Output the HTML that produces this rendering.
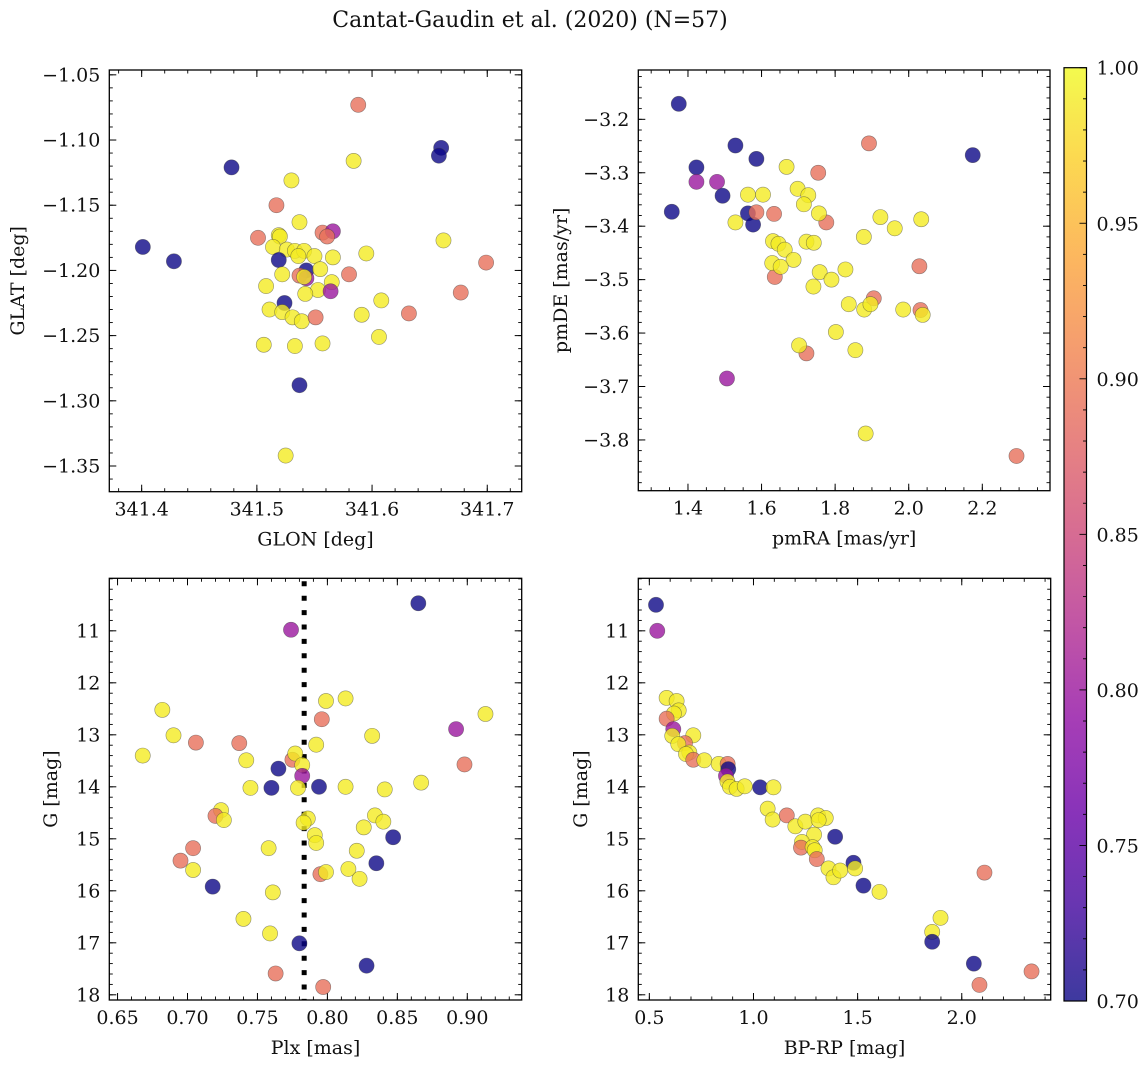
<!DOCTYPE html>
<html><head><meta charset="utf-8">
<style>
html,body{margin:0;padding:0;background:#fff;}
svg{display:block;font-family:"DejaVu Serif","Liberation Serif",serif;}
</style></head>
<body>
<svg id="fig" width="1148" height="1067" viewBox="0 0 1148 1067" xmlns="http://www.w3.org/2000/svg">
<text x="530" y="27" font-size="22" text-anchor="middle" fill="#111">Cantat-Gaudin et al. (2020) (N=57)</text>
</svg>
<script>
// ---- data ----
const B=0.70,M=0.80,S=0.89,Y=0.99;
const glon=[341.588,341.660,341.658,341.478,341.584,341.530,341.517,341.537,341.501,341.519,341.520,341.557,341.566,341.561,341.401,341.428,341.514,341.526,341.533,341.541,341.536,341.550,341.566,341.595,341.662,341.519,341.699,341.543,341.522,341.555,341.580,341.537,341.543,341.541,341.508,341.565,341.553,341.564,341.677,341.542,341.524,341.608,341.511,341.522,341.531,341.539,341.551,341.591,341.632,341.606,341.506,341.533,341.557,341.537,341.525];
const glat=[-1.073,-1.106,-1.112,-1.121,-1.116,-1.131,-1.150,-1.163,-1.175,-1.173,-1.174,-1.171,-1.170,-1.174,-1.182,-1.193,-1.182,-1.184,-1.185,-1.185,-1.189,-1.189,-1.190,-1.187,-1.177,-1.192,-1.194,-1.200,-1.203,-1.199,-1.203,-1.204,-1.206,-1.205,-1.212,-1.209,-1.215,-1.216,-1.217,-1.218,-1.225,-1.223,-1.230,-1.232,-1.236,-1.239,-1.236,-1.234,-1.233,-1.251,-1.257,-1.258,-1.256,-1.288,-1.342];
const probTL=[S,B,B,B,Y,Y,S,Y,S,Y,Y,S,M,S,B,B,Y,Y,Y,Y,Y,Y,Y,Y,Y,B,S,B,Y,Y,S,S,M,Y,Y,Y,Y,M,S,Y,B,Y,Y,Y,Y,Y,S,Y,S,Y,Y,Y,Y,B,Y];

const pmra=[1.375,1.529,1.586,1.423,1.494,1.356,1.563,1.577,2.174, 1.423,1.479,1.506, 1.892,1.754,1.586,1.634,1.776,2.029,1.636,1.905,2.032,1.722,2.293, 1.668,1.563,1.604,1.698,1.727,1.715,1.756,1.529,1.923,1.962,2.034,1.878,1.631,1.646,1.663,1.722,1.742,1.687,1.629,1.652,1.758,1.828,1.790,1.741,1.837,1.879,1.896,1.985,2.038,1.802,1.702,1.855,1.883];
const pmde=[-3.171,-3.249,-3.274,-3.290,-3.343,-3.373,-3.376,-3.397,-3.267, -3.317,-3.317,-3.685, -3.245,-3.300,-3.374,-3.377,-3.393,-3.475,-3.495,-3.535,-3.557,-3.638,-3.830, -3.289,-3.341,-3.341,-3.330,-3.342,-3.359,-3.376,-3.393,-3.383,-3.404,-3.387,-3.420,-3.428,-3.433,-3.444,-3.429,-3.431,-3.463,-3.469,-3.476,-3.486,-3.481,-3.500,-3.513,-3.546,-3.556,-3.546,-3.556,-3.566,-3.598,-3.623,-3.632,-3.788];
const probTR=[B,B,B,B,B,B,B,B,B, M,M,M, S,S,S,S,S,S,S,S,S,S,S, Y,Y,Y,Y,Y,Y,Y,Y,Y,Y,Y,Y,Y,Y,Y,Y,Y,Y,Y,Y,Y,Y,Y,Y,Y,Y,Y,Y,Y,Y,Y,Y,Y];

const plx=[0.865,0.774,0.682,0.799,0.813,0.796,0.913,0.892,0.690,0.832,0.706,0.737,0.668,0.792,0.742,0.775,0.777,0.782,0.898,0.765,0.782,0.760,0.745,0.779,0.794,0.813,0.841,0.867,0.724,0.720,0.726,0.786,0.783,0.834,0.840,0.826,0.847,0.791,0.792,0.758,0.821,0.704,0.695,0.704,0.835,0.815,0.823,0.795,0.799,0.718,0.761,0.740,0.759,0.780,0.828,0.763,0.797];
const gmagBL=[10.47,10.98,12.52,12.35,12.30,12.70,12.60,12.89,13.01,13.02,13.15,13.16,13.40,13.19,13.49,13.48,13.36,13.58,13.57,13.65,13.79,14.02,14.02,14.02,14.00,14.00,14.05,13.92,14.45,14.56,14.64,14.61,14.69,14.55,14.67,14.78,14.97,14.93,15.08,15.18,15.23,15.18,15.42,15.60,15.47,15.58,15.77,15.68,15.64,15.92,16.03,16.54,16.82,17.01,17.44,17.59,17.85];
const probBL=[B,M,Y,Y,Y,S,Y,M,Y,Y,S,S,Y,Y,Y,S,Y,Y,S,B,M,B,Y,Y,B,Y,Y,Y,Y,S,Y,Y,Y,Y,Y,Y,B,Y,Y,Y,Y,S,S,Y,B,Y,Y,S,Y,B,Y,Y,Y,B,B,S,S];
const plxRef=[0.7834];

const bprp=[0.532,0.538,0.583,0.631,0.641,0.618,0.583,0.615,0.610,0.711,0.671,0.639,0.692,0.676,0.711,0.764,0.833,0.876,0.879,0.868,0.875,0.887,0.919,0.958,1.032,1.096,1.068,1.092,1.160,1.201,1.249,1.310,1.347,1.313,1.291,1.392,1.233,1.228,1.284,1.294,1.304,1.480,1.488,1.360,1.384,1.416,1.528,1.605,2.109,1.898,1.858,1.858,2.058,2.335,2.085];
const gmagBR=[10.50,11.00,12.29,12.35,12.53,12.59,12.69,12.89,13.02,13.01,13.16,13.18,13.34,13.37,13.48,13.49,13.56,13.56,13.66,13.79,13.90,14.00,14.04,13.99,14.01,14.01,14.42,14.63,14.55,14.76,14.67,14.55,14.60,14.64,14.92,14.96,15.06,15.17,15.16,15.22,15.39,15.46,15.57,15.57,15.74,15.61,15.90,16.02,15.65,16.52,16.79,16.98,17.40,17.55,17.81];
const probBR=[B,M,Y,Y,Y,Y,S,M,Y,Y,S,Y,Y,Y,S,Y,Y,S,B,M,Y,Y,Y,Y,B,Y,Y,Y,S,Y,Y,Y,Y,Y,Y,B,Y,S,Y,Y,S,B,Y,Y,Y,Y,B,Y,S,Y,Y,B,B,S,S];

const ticksGLON=[341.4,341.5,341.6,341.7];
const ticksGLAT=[-1.05,-1.10,-1.15,-1.20,-1.25,-1.30,-1.35];
const ticksPMRA=[1.4,1.6,1.8,2.0,2.2];
const ticksPMDE=[-3.2,-3.3,-3.4,-3.5,-3.6,-3.7,-3.8];
const ticksPLX=[0.65,0.70,0.75,0.80,0.85,0.90];
const ticksG=[11,12,13,14,15,16,17,18];
const ticksBPRP=[0.5,1.0,1.5,2.0];
const ticksCB=[0.70,0.75,0.80,0.85,0.90,0.95,1.00];

// ---- helpers ----
const NS="http://www.w3.org/2000/svg";
const svg=document.getElementById('fig');
const FS=19;
function mk(tag,attrs,parent){const e=document.createElementNS(NS,tag);for(const k in attrs)e.setAttribute(k,attrs[k]);(parent||svg).appendChild(e);return e;}
const plasmaStops=[[0,'#0d0887'],[0.1,'#41049d'],[0.2,'#6a00a8'],[0.3,'#8f0da4'],[0.4,'#b12a90'],[0.5,'#cc4778'],[0.6,'#e16462'],[0.7,'#f2844b'],[0.8,'#fca636'],[0.9,'#fcce25'],[1,'#f0f921']];
function hex(h){return[parseInt(h.substr(1,2),16),parseInt(h.substr(3,2),16),parseInt(h.substr(5,2),16)];}
function plasma(t){t=Math.max(0,Math.min(1,t));for(let i=1;i<plasmaStops.length;i++){if(t<=plasmaStops[i][0]){const a=plasmaStops[i-1],b=plasmaStops[i];const f=(t-a[0])/(b[0]-a[0]);const ca=hex(a[1]),cb=hex(b[1]);return 'rgb('+ca.map((v,j)=>Math.round(v+(cb[j]-v)*f)).join(',')+')';}}return plasmaStops[10][1];}
const cmin=0.70,cmax=1.00;
function fmt(v,d){const s=Math.abs(v).toFixed(d);return (v<0?'\u2212':'')+s;}

function panel(cfg){
  const g=mk('g',{});
  
  
  const sx=v=>cfg.x0+(v-cfg.xmin)/(cfg.xmax-cfg.xmin)*(cfg.x1-cfg.x0);
  const sy=v=>cfg.y0+(v-cfg.ytop)/(cfg.ybot-cfg.ytop)*(cfg.y1-cfg.y0);
  const lo=Math.min(cfg.xmin,cfg.xmax),hi=Math.max(cfg.xmin,cfg.xmax);
  for(let k=Math.ceil(lo/cfg.xminor-1e-6);k*cfg.xminor<=hi+1e-9;k++){const x=sx(k*cfg.xminor);
    mk('line',{x1:x,x2:x,y1:cfg.y1,y2:cfg.y1-3.5,stroke:'#000','stroke-width':0.9},g);
    mk('line',{x1:x,x2:x,y1:cfg.y0,y2:cfg.y0+3.5,stroke:'#000','stroke-width':0.9},g);}
  const ylo=Math.min(cfg.ytop,cfg.ybot),yhi=Math.max(cfg.ytop,cfg.ybot);
  for(let k=Math.ceil(ylo/cfg.yminor-1e-6);k*cfg.yminor<=yhi+1e-9;k++){const y=sy(k*cfg.yminor);
    mk('line',{x1:cfg.x0,x2:cfg.x0+3.5,y1:y,y2:y,stroke:'#000','stroke-width':0.9},g);
    mk('line',{x1:cfg.x1,x2:cfg.x1-3.5,y1:y,y2:y,stroke:'#000','stroke-width':0.9},g);}
  cfg.xt.forEach(v=>{const x=sx(v);
    mk('line',{x1:x,x2:x,y1:cfg.y1,y2:cfg.y1-7,stroke:'#000','stroke-width':1},g);
    mk('line',{x1:x,x2:x,y1:cfg.y0,y2:cfg.y0+7,stroke:'#000','stroke-width':1},g);
    const t=mk('text',{x:x,y:cfg.y1+24,'font-size':FS,'text-anchor':'middle',fill:'#111'},g);t.textContent=fmt(v,cfg.xd);
    
    });
  cfg.yt.forEach(v=>{const y=sy(v);
    mk('line',{x1:cfg.x0,x2:cfg.x0+7,y1:y,y2:y,stroke:'#000','stroke-width':1},g);
    mk('line',{x1:cfg.x1,x2:cfg.x1-7,y1:y,y2:y,stroke:'#000','stroke-width':1},g);
    const t=mk('text',{x:cfg.x0-9,y:y+6.5,'font-size':FS,'text-anchor':'end',fill:'#111'},g);t.textContent=fmt(v,cfg.yd);
    
    });
  if(cfg.vline){cfg.vline.forEach(v=>{const l=mk('line',{x1:sx(v),x2:sx(v),y1:cfg.y0+3,y2:cfg.y1,stroke:'#000','stroke-width':5,'stroke-dasharray':'5 9.4'},g);
    
    });}
  const clip='clip-'+cfg.name;
  const cp=mk('clipPath',{id:clip},g);mk('rect',{x:cfg.x0,y:cfg.y0,width:cfg.x1-cfg.x0,height:cfg.y1-cfg.y0},cp);
  const pg=mk('g',{'clip-path':'url(#'+clip+')'},g);
  cfg.xs.forEach((v,i)=>{
    const c=mk('circle',{cx:sx(v),cy:sy(cfg.ys[i]),r:7.6,fill:plasma((cfg.ps[i]-cmin)/(cmax-cmin)),'fill-opacity':0.8,stroke:'rgba(60,60,60,0.55)','stroke-width':0.6},pg);
    
    
  });
  mk('rect',{x:cfg.x0,y:cfg.y0,width:cfg.x1-cfg.x0,height:cfg.y1-cfg.y0,fill:'none',stroke:'#000','stroke-width':1.3},g);
  const xl=mk('text',{x:(cfg.x0+cfg.x1)/2,y:cfg.y1+54,'font-size':FS,'text-anchor':'middle',fill:'#111'},g);xl.textContent=cfg.xlabel;
  
  
  const yc=(cfg.y0+cfg.y1)/2;
  const yl=mk('text',{x:cfg.ylx,y:yc,'font-size':FS,'text-anchor':'middle',fill:'#111',transform:'rotate(-90 '+cfg.ylx+' '+yc+')'},g);yl.textContent=cfg.ylabel;
  
  
}

panel({name:'glon-glat-panel',x0:109.3,x1:521.7,y0:70,y1:491.7,xmin:341.3719,xmax:341.7299,ytop:-1.0463,ybot:-1.3697,
  xt:ticksGLON,yt:ticksGLAT,xd:1,yd:2,xminor:0.02,yminor:0.01,xs:glon,ys:glat,ps:probTL,xlabel:'GLON [deg]',ylabel:'GLAT [deg]',ylx:24});
panel({name:'pm-panel',x0:638.3,x1:1050,y0:70,y1:490.7,xmin:1.265,xmax:2.384,ytop:-3.1077,ybot:-3.895,
  xt:ticksPMRA,yt:ticksPMDE,xd:1,yd:1,xminor:0.05,yminor:0.02,xs:pmra,ys:pmde,ps:probTR,xlabel:'pmRA [mas/yr]',ylabel:'pmDE [mas/yr]',ylx:567});
panel({name:'plx-g-panel',x0:109.3,x1:521.7,y0:578.3,y1:1000,xmin:0.6441,xmax:0.9389,ytop:9.99,ybot:18.10,
  xt:ticksPLX,yt:ticksG,xd:2,yd:0,xminor:0.01,yminor:0.2,xs:plx,ys:gmagBL,ps:probBL,xlabel:'Plx [mas]',ylabel:'G [mag]',ylx:57,vline:plxRef});
panel({name:'cmd-panel',x0:638.3,x1:1050.7,y0:578.3,y1:1000,xmin:0.447,xmax:2.427,ytop:9.99,ybot:18.10,
  xt:ticksBPRP,yt:ticksG,xd:1,yd:0,xminor:0.1,yminor:0.2,xs:bprp,ys:gmagBR,ps:probBR,xlabel:'BP-RP [mag]',ylabel:'G [mag]',ylx:587});

(function(){
  const x0=1064,x1=1086.5,y0=67.7,y1=1001;
  const g=mk('g',{});
  
  
  const defs=mk('defs',{},g);
  const lg=mk('linearGradient',{id:'cbgrad',x1:0,y1:1,x2:0,y2:0},defs);
  for(let i=0;i<=20;i++){const t=i/20;mk('stop',{offset:t,'stop-color':plasma(t)},lg);}
  mk('rect',{x:x0,y:y0,width:x1-x0,height:y1-y0,fill:'url(#cbgrad)','fill-opacity':0.8},g);
  const sy=v=>y1-(v-cmin)/(cmax-cmin)*(y1-y0);
  for(let k=70;k<=100;k++){const y=sy(k/100);
    mk('line',{x1:x1,x2:x1-(k%5===0?7:3.5),y1:y,y2:y,stroke:'#000','stroke-width':0.9},g);}
  ticksCB.forEach(v=>{const t=mk('text',{x:x1+10,y:sy(v)+7,'font-size':FS,fill:'#111'},g);t.textContent=v.toFixed(2);
    
    });
  mk('rect',{x:x0,y:y0,width:x1-x0,height:y1-y0,fill:'none',stroke:'#000','stroke-width':1.2},g);
})();
</script>
</body></html>
